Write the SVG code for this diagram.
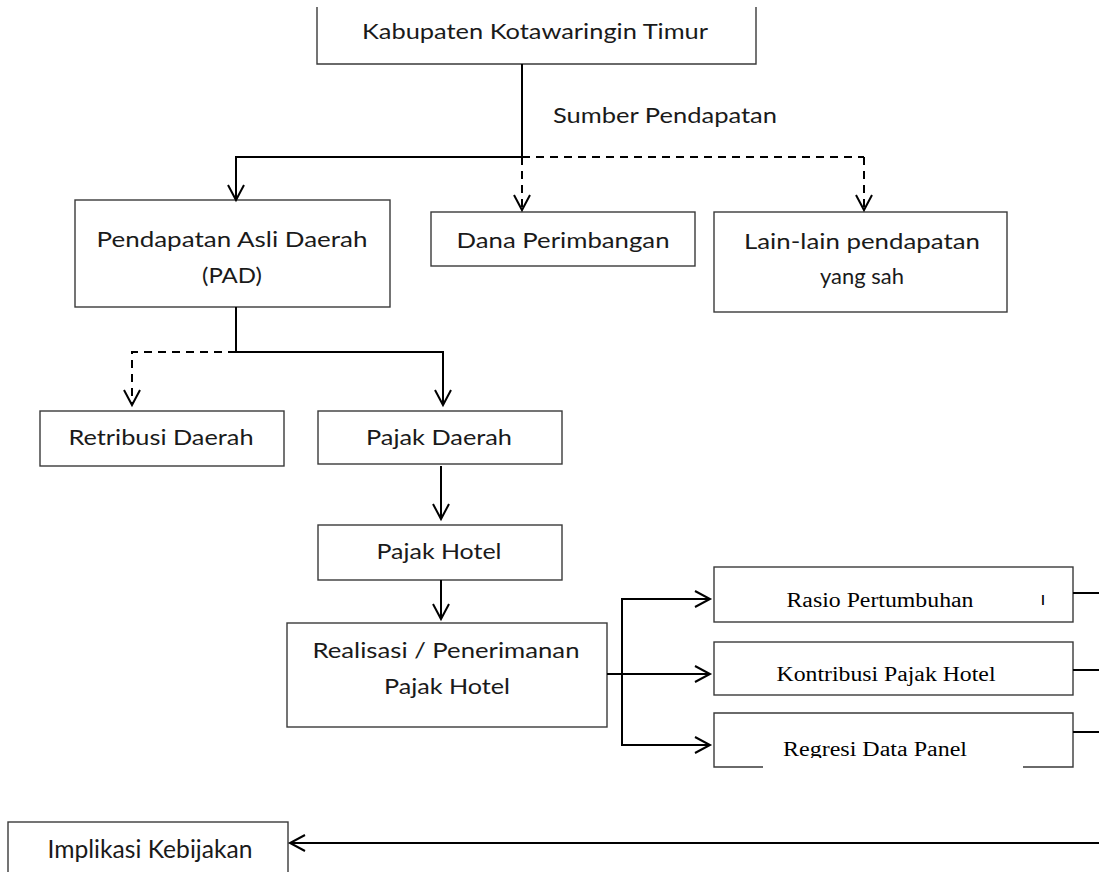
<svg xmlns="http://www.w3.org/2000/svg" width="1099" height="872" viewBox="0 0 1099 872">
<defs>
<style>
.box{fill:#fff;stroke:#3a3a3a;stroke-width:1.4}
.t{font-family:"Lato","Open Sans",sans-serif;font-size:22px;fill:#1a1a1a;text-anchor:middle}
.s{font-family:"Liberation Serif","Times New Roman",serif;font-size:20px;fill:#000;text-anchor:middle}
.c{fill:none;stroke:#000;stroke-width:2}
.d{stroke-dasharray:8 6}
</style>
<marker id="ah" viewBox="-17 -10 20 20" refX="0" refY="0" markerWidth="20" markerHeight="20" markerUnits="userSpaceOnUse" orient="auto">
<path d="M-15,-8 L0,0 L-15,8" fill="none" stroke="#000" stroke-width="2"/>
</marker>
</defs>
<rect width="1099" height="872" fill="#fff"/>

<g id="n-kabupaten">
<path d="M317,7 V64 H756 V7" fill="none" stroke="#3a3a3a" stroke-width="1.4"/>
<text class="t" x="535" y="39" textLength="346" lengthAdjust="spacingAndGlyphs">Kabupaten Kotawaringin Timur</text>
</g>
<g id="n-sumber-label">
<text class="t" x="553" y="123" style="text-anchor:start" textLength="224" lengthAdjust="spacingAndGlyphs">Sumber Pendapatan</text>
</g>
<g id="n-pad">
<rect class="box" x="75" y="200" width="315" height="107"/>
<text class="t" x="232" y="247" textLength="271" lengthAdjust="spacingAndGlyphs">Pendapatan Asli Daerah</text>
<text class="t" x="232" y="283" textLength="60" lengthAdjust="spacingAndGlyphs">(PAD)</text>
</g>
<g id="n-dana">
<rect class="box" x="431" y="212" width="264" height="54"/>
<text class="t" x="563" y="248" textLength="213" lengthAdjust="spacingAndGlyphs">Dana Perimbangan</text>
</g>
<g id="n-lain">
<rect class="box" x="714" y="212" width="293" height="100"/>
<text class="t" x="862" y="249" textLength="236" lengthAdjust="spacingAndGlyphs">Lain-lain pendapatan</text>
<text class="t" x="862" y="284" textLength="84" lengthAdjust="spacingAndGlyphs">yang sah</text>
</g>
<g id="n-retribusi">
<rect class="box" x="40" y="411" width="244" height="55"/>
<text class="t" x="161" y="445" textLength="185" lengthAdjust="spacingAndGlyphs">Retribusi Daerah</text>
</g>
<g id="n-pajak-daerah">
<rect class="box" x="318" y="411" width="244" height="53"/>
<text class="t" x="439" y="445" textLength="146" lengthAdjust="spacingAndGlyphs">Pajak Daerah</text>
</g>
<g id="n-pajak-hotel">
<rect class="box" x="318" y="525" width="244" height="55"/>
<text class="t" x="439" y="559" textLength="125" lengthAdjust="spacingAndGlyphs">Pajak Hotel</text>
</g>
<g id="n-realisasi">
<rect class="box" x="287" y="623" width="320" height="104"/>
<text class="t" x="446" y="658" textLength="267" lengthAdjust="spacingAndGlyphs">Realisasi / Penerimanan</text>
<text class="t" x="447" y="694" textLength="126" lengthAdjust="spacingAndGlyphs">Pajak Hotel</text>
</g>
<g id="n-rasio">
<rect class="box" x="714" y="567" width="359" height="55"/>
<text class="s" x="880" y="607" textLength="187" lengthAdjust="spacingAndGlyphs">Rasio Pertumbuhan</text>
<text x="1043" y="605" style="font-family:'DejaVu Sans',sans-serif;font-size:18px;fill:#000;text-anchor:middle">ו</text>
</g>
<g id="n-kontribusi">
<rect class="box" x="714" y="642" width="359" height="53"/>
<text class="s" x="886" y="681" textLength="219" lengthAdjust="spacingAndGlyphs">Kontribusi Pajak Hotel</text>
</g>
<g id="n-regresi">
<path d="M763,767 H714 V713 H1073 V767 H1023" fill="#fff" stroke="#3a3a3a" stroke-width="1.4"/>
<text class="s" x="875" y="756" textLength="184" lengthAdjust="spacingAndGlyphs">Regresi Data Panel</text>
<rect x="763" y="758" width="260" height="12" fill="#fff"/>
</g>
<g id="n-implikasi">
<rect class="box" x="8" y="822" width="280" height="60"/>
<text class="t" x="150" y="858" style="font-size:25px" textLength="205" lengthAdjust="spacingAndGlyphs">Implikasi Kebijakan</text>
</g>

<g id="connectors">
<path class="c" d="M522,64 V163"/>
<path class="c" d="M522,157 H236 V200" marker-end="url(#ah)"/>
<path class="c d" d="M522,157 H864"/>
<path class="c d" d="M522,157 V210" marker-end="url(#ah)"/>
<path class="c d" d="M864,157 V210" marker-end="url(#ah)"/>
<path class="c" d="M236,307 V352 H443 V405" marker-end="url(#ah)"/>
<path class="c d" d="M236,352 H132 V405" marker-end="url(#ah)"/>
<path class="c" d="M441,466 V519" marker-end="url(#ah)"/>
<path class="c" d="M441,580 V619" marker-end="url(#ah)"/>
<path class="c" d="M607,674 H710" marker-end="url(#ah)"/>
<path class="c" d="M710,599 H622 V745 H710" marker-end="url(#ah)"/>
<path class="c" d="M622,599 H710" marker-end="url(#ah)"/>
<path class="c" d="M1073,593 H1099"/>
<path class="c" d="M1073,670 H1099"/>
<path class="c" d="M1073,732 H1099"/>
<path class="c" d="M1099,843 H290" marker-end="url(#ah)"/>
</g>
</svg>
